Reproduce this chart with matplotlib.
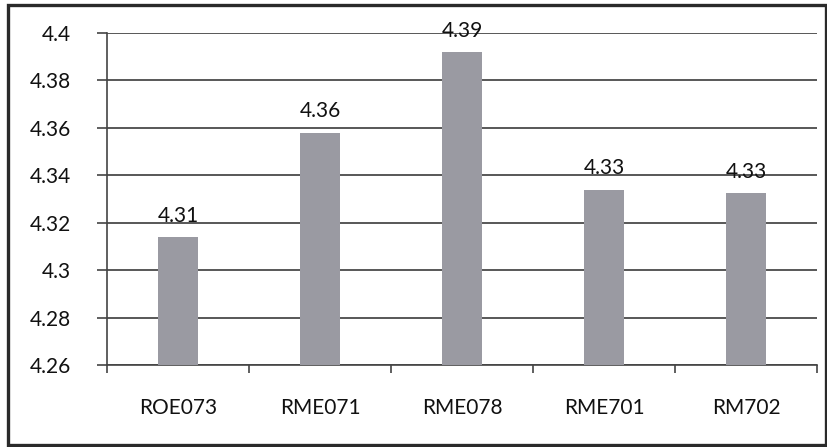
import matplotlib
matplotlib.use("Agg")
import matplotlib.pyplot as plt
from matplotlib.patches import Rectangle
from matplotlib.ticker import FixedLocator

categories = ["ROE073", "RME071", "RME078", "RME701", "RM702"]
values = [4.314, 4.358, 4.392, 4.334, 4.3325]
labels = ["4.31", "4.36", "4.39", "4.33", "4.33"]
yticks = [4.26, 4.28, 4.30, 4.32, 4.34, 4.36, 4.38, 4.40]
ytick_labels = ["4.26", "4.28", "4.3", "4.32", "4.34", "4.36", "4.38", "4.4"]

plt.rcParams['font.family'] = ['Lato', 'DejaVu Sans']

fig = plt.figure(figsize=(8.28, 4.47), dpi=100)
fig.patch.set_facecolor('white')
ax = fig.add_axes([0.1292, 0.1834, 0.8575, 0.7428])

x = list(range(len(categories)))
ax.bar(x, [v - 4.26 for v in values], bottom=4.26, width=0.28,
       color='#9a9aa2', zorder=3)

for xi, v, lab in zip(x, values, labels):
    ax.annotate(lab, (xi, v), xytext=(0, 8), textcoords='offset points',
                ha='center', va='bottom', fontsize=15, color='#111111', zorder=4)

ax.set_xlim(-0.5, 4.5)
ax.set_ylim(4.26, 4.40)
ax.set_yticks(yticks)
ax.set_yticklabels(ytick_labels, fontsize=15, color='#111111')
ax.set_xticks(x)
ax.set_xticklabels(categories, fontsize=15, color='#111111')
ax.xaxis.set_minor_locator(FixedLocator([-0.5, 0.5, 1.5, 2.5, 3.5, 4.5]))
ax.tick_params(axis='x', which='major', length=0, pad=24)
ax.tick_params(axis='x', which='minor', length=6, width=1.2, color='#444444', direction='out')
ax.tick_params(axis='y', which='major', length=7, width=1.2, color='#444444', pad=19)

ax.grid(axis='y', color='#4a4a4a', linewidth=1.3, zorder=0)
for s in ['top', 'right']:
    ax.spines[s].set_visible(False)
for s in ['left', 'bottom']:
    ax.spines[s].set_color('#444444')
    ax.spines[s].set_linewidth(1.2)

# outer chart border
fig.patches.append(Rectangle((8/828, 2/447), 818/828, 440/447, transform=fig.transFigure,
                             fill=False, edgecolor='#2a2a2a', linewidth=2.4))

fig.savefig('out.png', dpi=100)
